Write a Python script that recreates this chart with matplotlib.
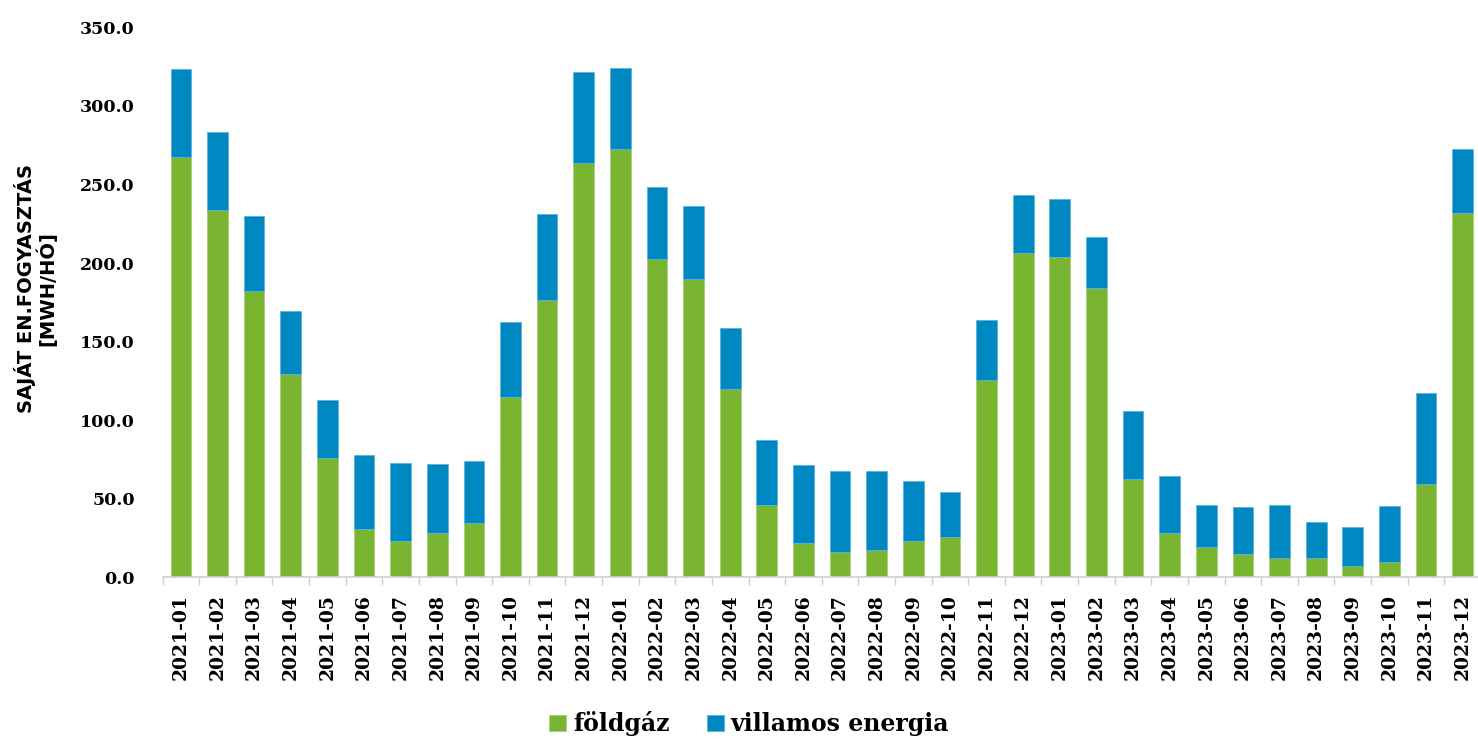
import numpy as np
import matplotlib
matplotlib.use('Agg')
from matplotlib import pyplot as plt

months = ['2021-01', '2021-02', '2021-03', '2021-04', '2021-05', '2021-06',
          '2021-07', '2021-08', '2021-09', '2021-10', '2021-11', '2021-12',
          '2022-01', '2022-02', '2022-03', '2022-04', '2022-05', '2022-06',
          '2022-07', '2022-08', '2022-09', '2022-10', '2022-11', '2022-12',
          '2023-01', '2023-02', '2023-03', '2023-04', '2023-05', '2023-06',
          '2023-07', '2023-08', '2023-09', '2023-10', '2023-11', '2023-12']

foldgaz = [267.3, 233.6, 182.0, 129.2, 75.7, 30.6, 22.9, 28.0, 34.4, 114.6, 176.3, 263.5,
           272.4, 202.4, 189.7, 119.7, 45.8, 21.6, 15.9, 17.2, 22.9, 25.5, 125.4, 206.2,
           203.7, 184.0, 62.4, 28.0, 19.1, 14.6, 12.1, 12.1, 7.0, 9.5, 59.2, 231.7]

total = [323.3, 283.2, 229.8, 169.3, 112.7, 77.7, 72.6, 71.9, 73.8, 162.3, 231.0, 321.4,
         324.0, 248.2, 236.2, 158.5, 87.2, 71.3, 67.5, 67.5, 61.1, 54.1, 163.6, 243.2,
         240.6, 216.4, 105.7, 64.3, 45.8, 44.6, 45.8, 35.0, 31.8, 45.2, 117.1, 272.4]

villamos = [t - g for t, g in zip(total, foldgaz)]

green = '#7AB532'
blue = '#0088C2'
serif = ['DejaVu Serif']

fig = plt.figure(figsize=(14.78, 7.41), dpi=100)
ax = fig.add_axes([0.11, 0.221, 0.892, 0.742])

x = np.arange(len(months))
w = 0.565
ax.bar(x, foldgaz, w, color=green, edgecolor='#A6D07A', linewidth=0.6, label='földgáz')
ax.bar(x, villamos, w, bottom=foldgaz, color=blue, edgecolor='#5CB3DD', linewidth=0.6,
       label='villamos energia')

ax.set_xlim(-0.5, len(months) - 0.5)
ax.set_ylim(0, 350)
ax.set_yticks(np.arange(0, 351, 50))
ax.set_yticklabels(['%.1f' % v for v in np.arange(0, 351, 50)],
                   fontfamily=serif, fontweight='bold', fontsize=12.5)
ax.set_xticks(x)
ax.set_xticklabels(months, rotation=90, fontfamily=serif, fontweight='bold', fontsize=13.5)
ax.tick_params(axis='x', length=0, pad=12)
ax.tick_params(axis='y', length=0, pad=20)
ax.set_xticks(np.arange(-0.5, len(months), 1), minor=True)
ax.tick_params(axis='x', which='minor', length=6, color='#D0D0D0', width=1)

for s in ['top', 'right', 'left']:
    ax.spines[s].set_visible(False)
ax.spines['bottom'].set_color('#D0D0D0')
ax.spines['bottom'].set_linewidth(1.2)

fig.text(0.024, 0.61, 'SAJÁT EN.FOGYASZTÁS\n[MWH/HÓ]', rotation=90, ha='center', va='center',
         fontfamily=['DejaVu Sans'], fontweight='bold', fontsize=14, linespacing=1.0)

leg = ax.legend(loc='upper center', bbox_to_anchor=(0.445, -0.205), ncol=2, frameon=False,
                prop={'family': serif, 'weight': 'bold', 'size': 17},
                handlelength=0.7, handleheight=0.7, handletextpad=0.3, columnspacing=1.6)

fig.savefig('out.png', dpi=100)
